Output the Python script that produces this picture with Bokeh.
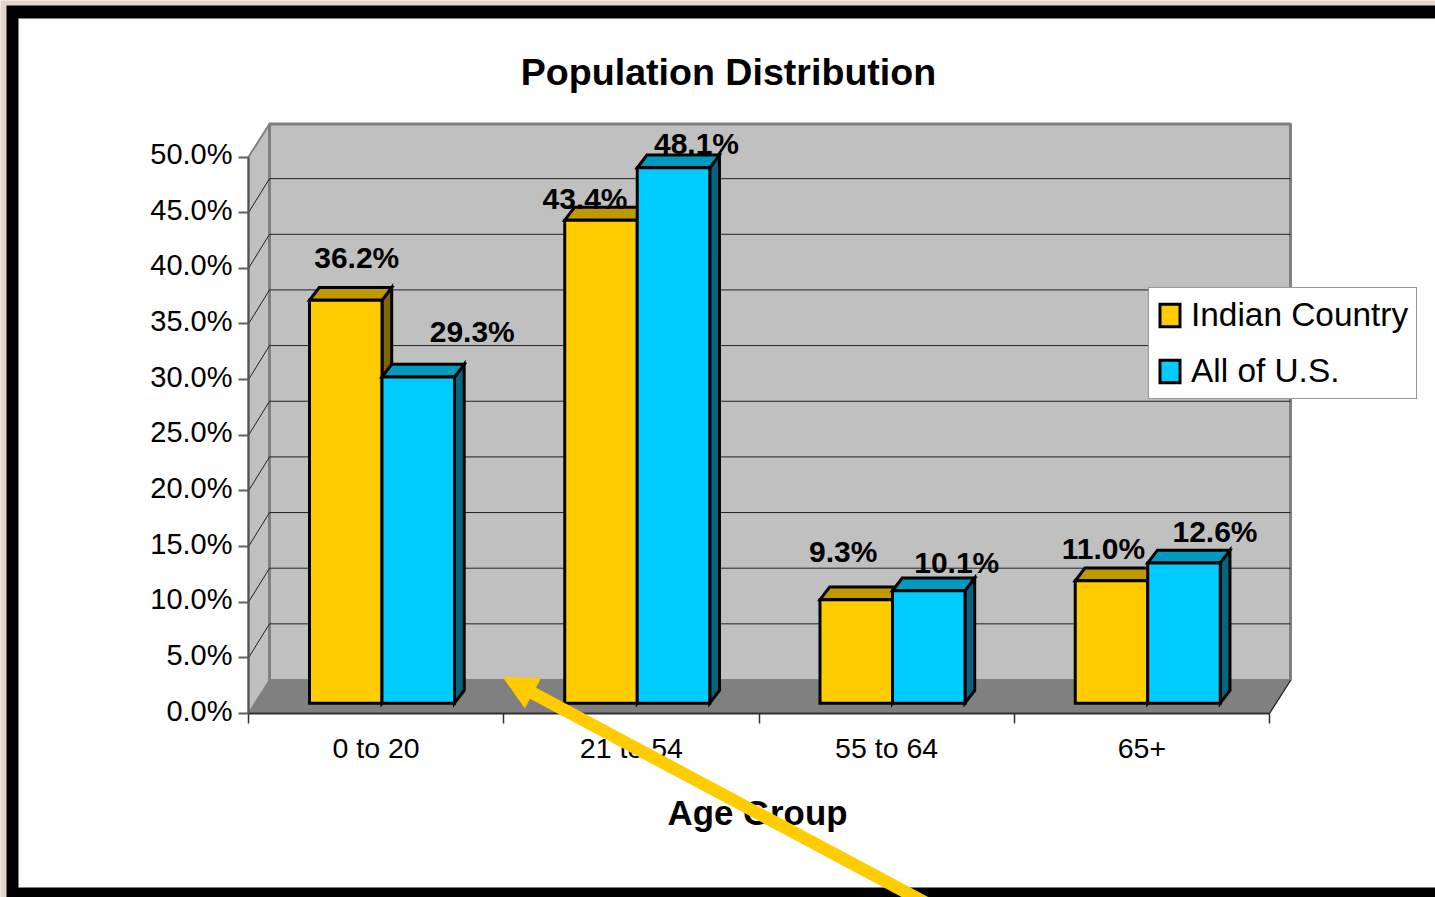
from bokeh.core.properties import value
from bokeh.embed import file_html
from bokeh.models import Arrow, FixedTicker, Legend, LegendItem, LinearAxis, NormalHead, PrintfTickFormatter, Range1d
from bokeh.plotting import figure
from bokeh.resources import INLINE

# Chart content
age_groups = ["0 to 20", "21 to 54", "55 to 64", "65+"]
indian_country = [36.2, 43.4, 9.3, 11.0]
all_us = [29.3, 48.1, 10.1, 12.6]
y_ticks = [0, 5, 10, 15, 20, 25, 30, 35, 40, 45, 50]

WIDTH, HEIGHT = 1435, 897
FONT = "Liberation Sans"

# Scale of the front plane of the plot box on the page
UNIT_X = 255.25   # page pixels per age group
UNIT_Y = 11.13    # page pixels per percentage point
ORIGIN_X, ORIGIN_Y = 248.0, 713.0


def page_x(px):
    return (px - ORIGIN_X) / UNIT_X


def page_y(py):
    return (ORIGIN_Y - py) / UNIT_Y


# Oblique offsets of the 3D box and of the bars
WALL_DX, WALL_DY = 21 / UNIT_X, 33 / UNIT_Y
GRID_DY = 34 / UNIT_Y
BAR_DX, BAR_DY = 9.7 / UNIT_X, 12.8 / UNIT_Y
BAR_BASE = 10.3 / UNIT_Y
BAR_GAP = 61 / UNIT_X
BAR_W = 72.5 / UNIT_X

YELLOW = ("#FFCC00", "#BF9900", "#806600")
BLUE = ("#00CCFF", "#0099BF", "#006680")

p = figure(
    width=WIDTH, height=HEIGHT, output_backend="svg", toolbar_location=None,
    x_range=Range1d(page_x(0), page_x(WIDTH)),
    y_range=Range1d(page_y(HEIGHT), page_y(0)),
    min_border=0, min_border_left=0, min_border_right=0, min_border_top=0, min_border_bottom=0,
)
p.outline_line_color = None
p.grid.visible = False
p.background_fill_color = "#E3D5C8"
p.border_fill_color = "#E3D5C8"

# Black page frame and white sheet
p.quad(left=page_x(6), right=page_x(WIDTH), top=page_y(5), bottom=page_y(HEIGHT),
       fill_color="#000000", line_color=None, level="underlay")
p.quad(left=page_x(18), right=page_x(WIDTH), top=page_y(18), bottom=page_y(887),
       fill_color="#FFFFFF", line_color=None, level="underlay")

# Walls and floor of the plot box
n = len(age_groups)
top = y_ticks[-1]
p.patch([0, WALL_DX, WALL_DX, 0], [0, WALL_DY, top + WALL_DY, top],
        fill_color="#C0C0C0", line_color="#808080", line_width=2)
p.patch([WALL_DX, n + WALL_DX, n + WALL_DX, WALL_DX],
        [WALL_DY, WALL_DY, top + WALL_DY, top + WALL_DY],
        fill_color="#C0C0C0", line_color="#808080", line_width=3)
p.patch([0, n, n + WALL_DX, WALL_DX], [0, 0, WALL_DY, WALL_DY],
        fill_color="#808080", line_color="#808080", line_width=1)
p.segment([n], [0], [n + WALL_DX], [WALL_DY], line_color="#202020", line_width=1.2)

# Gridlines run across the back wall and down the side wall
grid = y_ticks[1:-1]
p.segment([WALL_DX] * len(grid), [v + GRID_DY for v in grid],
          [n + WALL_DX] * len(grid), [v + GRID_DY for v in grid],
          line_color="#202020", line_width=1)
p.segment([0] * len(grid), grid, [WALL_DX] * len(grid), [v + GRID_DY for v in grid],
          line_color="#202020", line_width=1)


def draw_series(values, offset, colors):
    """Draw one series as oblique boxes: side face, top face, then front face."""
    lefts = [i + BAR_GAP + offset * BAR_W for i in range(len(values))]
    rights = [x + BAR_W for x in lefts]
    style = dict(line_color="#000000", line_width=3, line_join="miter")
    p.patches(
        [[r, r + BAR_DX, r + BAR_DX, r] for r in rights],
        [[BAR_BASE, BAR_BASE + BAR_DY, BAR_BASE + v + BAR_DY, BAR_BASE + v] for v in values],
        fill_color=colors[2], **style)
    p.patches(
        [[l, r, r + BAR_DX, l + BAR_DX] for l, r in zip(lefts, rights)],
        [[BAR_BASE + v, BAR_BASE + v, BAR_BASE + v + BAR_DY, BAR_BASE + v + BAR_DY] for v in values],
        fill_color=colors[1], **style)
    return p.quad(left=lefts, right=rights, bottom=BAR_BASE,
                  top=[BAR_BASE + v for v in values], fill_color=colors[0], **style)


r_indian = draw_series(indian_country, 0, YELLOW)
r_us = draw_series(all_us, 1, BLUE)

# Data labels sit by hand-placed pixel offsets from the top of each bar's centre
label_dx = [[11, -16, -13, -8], [54, 23, 28, 31]]
label_dy = [[-43, -22, -48, -32], [-46, -24, -28, -31]]
for s, values in enumerate([indian_country, all_us]):
    xs = [i + BAR_GAP + (s + 0.5) * BAR_W for i in range(n)]
    for x, v, dx, dy in zip(xs, values, label_dx[s], label_dy[s]):
        p.text([x], [BAR_BASE + v], text=[f"{v:.1f}%"], x_offset=dx, y_offset=dy,
               text_align="center", text_baseline="middle", text_color="#000000",
               text_font=value(FONT), text_font_style="bold", text_font_size="30px")

# Axes are fixed onto the front edge of the plot box
yax = p.yaxis[0]
yax.fixed_location = 0
yax.bounds = (0, top)
yax.ticker = FixedTicker(ticks=y_ticks)
yax.axis_line_color = "#505050"
yax.axis_line_width = 2
yax.major_tick_line_color = "#606060"
yax.major_tick_line_width = 2
yax.major_tick_in = 0
yax.major_tick_out = 10
yax.minor_tick_line_color = None
yax.major_label_text_color = None

# The percentage labels ride a few pixels above their tick marks, on a nudged range
LABEL_LIFT = 3 / UNIT_Y
p.extra_y_ranges["tick_labels"] = Range1d(page_y(HEIGHT) - LABEL_LIFT, page_y(0) - LABEL_LIFT)
label_axis = LinearAxis(y_range_name="tick_labels", fixed_location=0, bounds=(0, top),
                        ticker=FixedTicker(ticks=y_ticks),
                        formatter=PrintfTickFormatter(format="%.1f%%"))
label_axis.axis_line_color = None
label_axis.major_tick_line_color = None
label_axis.minor_tick_line_color = None
label_axis.major_tick_in = 0
label_axis.major_tick_out = 10
label_axis.major_label_standoff = 6
label_axis.major_label_text_font = FONT
label_axis.major_label_text_font_size = "29px"
label_axis.major_label_text_color = "#000000"
p.add_layout(label_axis, "left")

xax = p.xaxis[0]
xax.fixed_location = 0
xax.bounds = (0, n)
centers = [i + 0.5 for i in range(n)]
xax.ticker = FixedTicker(ticks=centers, minor_ticks=list(range(n + 1)))
xax.major_label_overrides = dict(zip(centers, age_groups))
xax.axis_line_color = "#303030"
xax.axis_line_width = 2
xax.major_tick_line_color = None
xax.minor_tick_line_color = "#303030"
xax.minor_tick_line_width = 1.5
xax.minor_tick_in = 0
xax.minor_tick_out = 10
xax.major_tick_in = 0
xax.major_tick_out = 0
xax.major_label_standoff = 8
xax.major_label_text_font = FONT
xax.major_label_text_font_size = "28.5px"
xax.major_label_text_color = "#000000"

# Chart title and category-axis title
p.text([page_x(728)], [page_y(71)], text=["Population Distribution"],
       text_align="center", text_baseline="middle", text_color="#000000",
       text_font=value(FONT), text_font_style="bold", text_font_size="37.6px")
p.text([page_x(757)], [page_y(811.5)], text=["Age Group"],
       text_align="center", text_baseline="middle", text_color="#000000",
       text_font=value(FONT), text_font_style="bold", text_font_size="34.8px")

# Legend box
legend = Legend(
    items=[LegendItem(label="Indian Country", renderers=[r_indian]),
           LegendItem(label="All of U.S.", renderers=[r_us])],
    location=(1148, HEIGHT - 399), orientation="vertical",
    glyph_width=25, glyph_height=28, spacing=18, padding=8, margin=0,
    label_standoff=9, label_text_font=FONT, label_text_font_size="33.4px",
    label_text_color="#000000", label_height=28,
    border_line_color="#303030", border_line_width=1,
    background_fill_color="#FFFFFF", background_fill_alpha=1.0,
)
p.add_layout(legend, "center")

# Yellow call-out arrow pointing at the youngest-group gap
p.add_layout(Arrow(
    end=NormalHead(size=33, fill_color="#FFCC00", line_color="#FFCC00", line_width=1),
    x_start=page_x(935), y_start=page_y(907.5), x_end=page_x(503), y_end=page_y(677),
    line_color="#FFCC00", line_width=12.5,
))

open("out.html", "w").write(file_html(p, INLINE))
